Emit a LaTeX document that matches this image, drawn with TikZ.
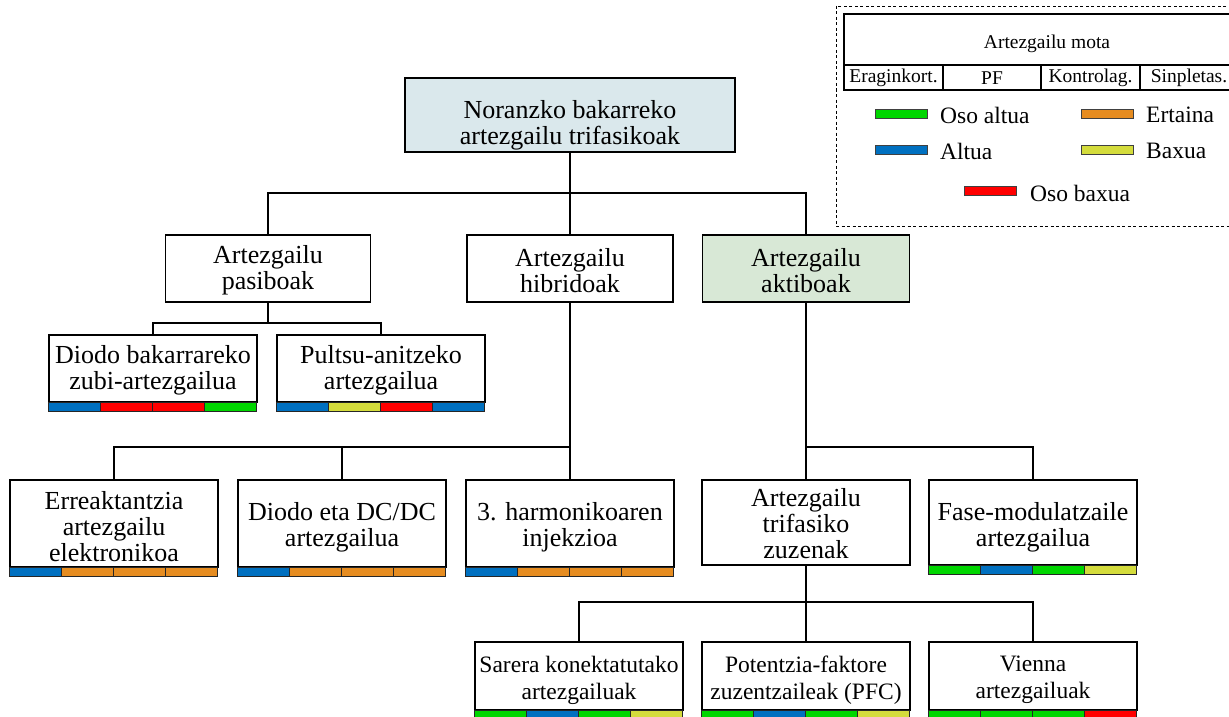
\documentclass[tikz,border=0pt]{standalone}
\usepackage{fontspec}
\setmainfont{Liberation Serif}
\definecolor{cG}{RGB}{0,214,0}
\definecolor{cB}{RGB}{0,112,192}
\definecolor{cR}{RGB}{255,0,0}
\definecolor{cO}{RGB}{230,140,32}
\definecolor{cY}{RGB}{212,220,60}
\definecolor{rootfill}{RGB}{218,232,236}
\definecolor{aktfill}{RGB}{216,232,214}
\tikzset{
  box/.style={draw, line width=1.2pt, fill=white, minimum width=208pt, inner sep=0pt},
  btxt/.style={align=center, inner sep=0pt, font=\fontsize{26}{26}\selectfont},
  stxt/.style={align=center, inner sep=0pt, font=\fontsize{23.5}{27}\selectfont},
  wire/.style={line width=1.4pt},
  seg/.style={draw=black!85, line width=1pt},
  legtxt/.style={anchor=west, inner sep=0pt, font=\fontsize{23.5}{23.5}\selectfont},
  tabtxt/.style={inner sep=0pt, font=\fontsize{19.5}{19.5}\selectfont},
  legbar/.style={draw=black!75, line width=1pt, minimum width=52pt, minimum height=9pt, inner sep=0pt},
}
\newcommand\ratebar[5]{%
  \begin{scope}[shift={(#1.south west)}]
    \filldraw[seg, fill=#2] (0,0) rectangle (52,9);
    \filldraw[seg, fill=#3] (52,0) rectangle (104,9);
    \filldraw[seg, fill=#4] (104,0) rectangle (156,9);
    \filldraw[seg, fill=#5] (156,0) rectangle (208,9);
  \end{scope}}
\begin{document}
\begin{tikzpicture}[x=1pt,y=-1pt]
\useasboundingbox (0,0) rectangle (1229,717);
\clip (0,0) rectangle (1229,717);

% level 1
\node[box, fill=rootfill, minimum width=330pt, minimum height=74pt] (root) at (570,115) {};
\node[btxt] (roott) at (570,125) {Noranzko bakarreko\\artezgailu trifasikoak};
% level 2
\node[box, minimum width=205pt, minimum height=67pt] (pas) at (268,268.5) {};
\node[btxt] (past) at (268,270.5) {Artezgailu\\pasiboak};
\node[box, minimum width=206pt, minimum height=67pt] (hib) at (570,268.5) {};
\node[btxt] (hibt) at (570,270.5) {Artezgailu\\hibridoak};
\node[box, fill=aktfill, minimum width=207pt, minimum height=67pt] (akt) at (806,268.5) {};
\node[btxt] (aktt) at (806,270.5) {Artezgailu\\aktiboak};
% passive children
\node[box, minimum height=67pt] (dio) at (153,368.5) {};
\node[btxt] (diot) at (153,370.5) {Diodo bakarrareko\\zubi-artezgailua};
\node[box, minimum height=67pt] (pul) at (381,368.5) {};
\node[btxt] (pult) at (381,370.5) {Pultsu-anitzeko\\artezgailua};
% hybrid children
\node[box, minimum height=87pt] (err) at (114,523.5) {};
\node[btxt] (errt) at (114,526.5) {Erreaktantzia\\artezgailu\\elektronikoa};
\node[box, minimum height=87pt] (ddc) at (342,523.5) {};
\node[btxt] (ddct) at (342,527.5) {Diodo eta DC/DC\\artezgailua};
\node[box, minimum height=87pt] (har) at (570,523.5) {};
\node[btxt] (hart) at (570,527.5) {3. harmonikoaren\\injekzioa};
% active children
\node[box, minimum height=85pt] (tri) at (806,522.5) {};
\node[btxt] (trit) at (806,523.5) {Artezgailu\\trifasiko\\zuzenak};
\node[box, minimum height=85pt] (fas) at (1033,522.5) {};
\node[btxt] (fast) at (1033,527.5) {Fase-modulatzaile\\artezgailua};
% direct three-phase children
\node[box, minimum height=68pt] (sar) at (579,676) {};
\node[stxt] (sart) at (579,680) {Sarera konektatutako\\artezgailuak};
\node[box, minimum height=68pt] (pot) at (806,676) {};
\node[stxt] (pott) at (806,680) {Potentzia-faktore\\zuzentzaileak (PFC)};
\node[box, minimum height=68pt] (vie) at (1033,676) {};
\node[stxt] (viet) at (1033,680) {Vienna\\artezgailuak};

% connectors
\coordinate (j1) at (570,193);
\coordinate (j2) at (268,323);
\coordinate (j3) at (570,447);
\coordinate (j4) at (806,447);
\coordinate (j5) at (806,602);
\draw[wire] (root.south) -- (hib.north);
\draw[wire] (pas.north) |- (j1) -| (akt.north);
\draw[wire] (pas.south) -- (j2);
\draw[wire] (dio.north) |- (j2) -| (pul.north);
\draw[wire] (hib.south) -- (har.north);
\draw[wire] (err.north) |- (j3);
\draw[wire] (ddc.north) -- (ddc.north |- j3);
\draw[wire] (akt.south) -- (tri.north);
\draw[wire] (j4) -| (fas.north);
\draw[wire] (tri.south) -- (pot.north);
\draw[wire] (sar.north) |- (j5) -| (vie.north);

% rating bars
\ratebar{dio}{cB}{cR}{cR}{cG}
\ratebar{pul}{cB}{cY}{cR}{cB}
\ratebar{err}{cB}{cO}{cO}{cO}
\ratebar{ddc}{cB}{cO}{cO}{cO}
\ratebar{har}{cB}{cO}{cO}{cO}
\ratebar{fas}{cG}{cB}{cG}{cY}
\ratebar{sar}{cG}{cB}{cG}{cY}
\ratebar{pot}{cG}{cB}{cG}{cY}
\ratebar{vie}{cG}{cG}{cG}{cR}

% legend
\draw[line width=0.9pt, dash pattern=on 3pt off 2.5pt, fill=white] (836,6) rectangle (1240,226);
\draw[line width=1.2pt] (844,14) rectangle (1240,90);
\draw[line width=1.2pt] (844,65) -- (1240,65);
\draw[line width=1.2pt] (943,65) -- (943,90);
\draw[line width=1.2pt] (1041,65) -- (1041,90);
\draw[line width=1.2pt] (1140,65) -- (1140,90);
\node[tabtxt] (tmota) at (1047,44) {Artezgailu mota};
\node[tabtxt] (tef) at (893.5,77.5) {Eraginkort.};
\node[tabtxt] (tpf) at (992,78.5) {PF};
\node[tabtxt] (tko) at (1090.5,77.5) {Kontrolag.};
\node[tabtxt] (tsi) at (1189,77.5) {Sinpletas.};

\node[legbar, fill=cG] (lg) at (901,113.5) {};
\node[legtxt] (lgt) at (940,115) {Oso altua};
\node[legbar, fill=cB] (lb) at (901,150) {};
\node[legtxt] (lbt) at (940,151) {Altua};
\node[legbar, fill=cO] (lo) at (1107.5,113.5) {};
\node[legtxt] (lot) at (1146,115) {Ertaina};
\node[legbar, fill=cY] (ly) at (1107.5,150) {};
\node[legtxt] (lyt) at (1146,151) {Baxua};
\node[legbar, fill=cR] (lr) at (990.5,191) {};
\node[legtxt] (lrt) at (1030,193) {Oso baxua};
\end{tikzpicture}
\end{document}
